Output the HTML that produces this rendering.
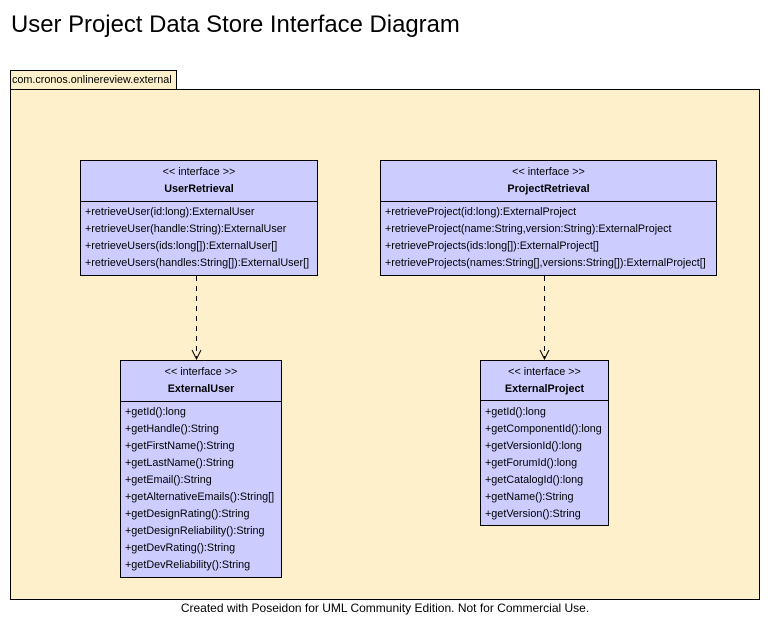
<!DOCTYPE html>
<html><head><style>
body{margin:0;width:770px;height:634px;background:#fff;position:relative;font-family:"Liberation Sans",Arial,sans-serif;overflow:hidden}
.a{position:absolute}
.cls{position:absolute;background:#ccccff;border:1px solid #000;box-sizing:border-box;font-size:10.8px;color:#000}
.hd{border-bottom:1px solid #000;text-align:center;box-sizing:border-box}
.hd .s{position:absolute;left:0;right:0;top:5px}
.hd .n{position:absolute;left:0;right:0;top:22px;font-weight:bold}
.r{position:absolute;left:4px;white-space:nowrap}
</style></head><body>
<div class="a" style="left:11px;top:11px;font-size:23.9px;white-space:nowrap">User Project Data Store Interface Diagram</div>
<div class="a" style="left:10px;top:70px;width:167px;height:20px;background:#fff0cc;border:1px solid #000;box-sizing:border-box;font-size:10.8px;line-height:18px;padding-left:1px;white-space:nowrap;overflow:hidden">com.cronos.onlinereview.external</div>
<div class="a" style="left:10px;top:89px;width:750px;height:511px;background:#fff0cc;border:1px solid #000;box-sizing:border-box"></div>

<div class="cls" style="left:80px;top:160px;width:238px;height:116px">
<div class="hd" style="position:relative;height:41px"><div class="s">&lt;&lt; interface &gt;&gt;</div><div class="n">UserRetrieval</div></div>
<div class="r" style="top:45px">+retrieveUser(id:long):ExternalUser</div>
<div class="r" style="top:62px">+retrieveUser(handle:String):ExternalUser</div>
<div class="r" style="top:79px">+retrieveUsers(ids:long[]):ExternalUser[]</div>
<div class="r" style="top:96px">+retrieveUsers(handles:String[]):ExternalUser[]</div>
</div>

<div class="cls" style="left:380px;top:160px;width:337px;height:116px">
<div class="hd" style="position:relative;height:41px"><div class="s">&lt;&lt; interface &gt;&gt;</div><div class="n">ProjectRetrieval</div></div>
<div class="r" style="top:45px">+retrieveProject(id:long):ExternalProject</div>
<div class="r" style="top:62px">+retrieveProject(name:String,version:String):ExternalProject</div>
<div class="r" style="top:79px">+retrieveProjects(ids:long[]):ExternalProject[]</div>
<div class="r" style="top:96px">+retrieveProjects(names:String[],versions:String[]):ExternalProject[]</div>
</div>

<div class="cls" style="left:120px;top:360px;width:162px;height:218px">
<div class="hd" style="position:relative;height:41px"><div class="s">&lt;&lt; interface &gt;&gt;</div><div class="n">ExternalUser</div></div>
<div class="r" style="top:45px">+getId():long</div>
<div class="r" style="top:62px">+getHandle():String</div>
<div class="r" style="top:79px">+getFirstName():String</div>
<div class="r" style="top:96px">+getLastName():String</div>
<div class="r" style="top:113px">+getEmail():String</div>
<div class="r" style="top:130px">+getAlternativeEmails():String[]</div>
<div class="r" style="top:147px">+getDesignRating():String</div>
<div class="r" style="top:164px">+getDesignReliability():String</div>
<div class="r" style="top:181px">+getDevRating():String</div>
<div class="r" style="top:198px">+getDevReliability():String</div>
</div>

<div class="cls" style="left:480px;top:360px;width:129px;height:166px">
<div class="hd" style="position:relative;height:40px"><div class="s">&lt;&lt; interface &gt;&gt;</div><div class="n">ExternalProject</div></div>
<div class="r" style="top:45px">+getId():long</div>
<div class="r" style="top:62px">+getComponentId():long</div>
<div class="r" style="top:79px">+getVersionId():long</div>
<div class="r" style="top:96px">+getForumId():long</div>
<div class="r" style="top:113px">+getCatalogId():long</div>
<div class="r" style="top:130px">+getName():String</div>
<div class="r" style="top:147px">+getVersion():String</div>
</div>

<svg class="a" style="left:0;top:0" width="770" height="634">
<g stroke="#000" stroke-width="1" fill="none">
<line x1="196.5" y1="276" x2="196.5" y2="359" stroke-dasharray="5,5"/>
<polyline points="192,350 196.5,359 201,350"/>
<line x1="544.5" y1="276" x2="544.5" y2="359" stroke-dasharray="5,5"/>
<polyline points="540,350 544.5,359 549,350"/>
</g>
</svg>
<div class="a" style="left:0;width:770px;top:601px;text-align:center;font-size:12px">Created with Poseidon for UML Community Edition. Not for Commercial Use.</div>
</body></html>
